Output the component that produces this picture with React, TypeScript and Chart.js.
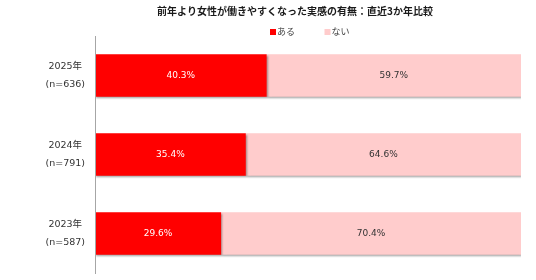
import React, { useEffect, useRef } from "react";
import { Chart, registerables } from "chart.js";

Chart.register(...registerables);

const years = ["2025年", "2024年", "2023年"];
const sampleSizes = [636, 791, 587];
const seriesNames = ["ある", "ない"];
const ariValues = [40.3, 35.4, 29.6];
const naiValues = [59.7, 64.6, 70.4];
const colors = ["#FF0000", "#FFCCCC"];
const labelColors = ["#FFFFFF", "#333333"];
const title = "前年より女性が働きやすくなった実感の有無：直近3か年比較";

const LATIN = '"DejaVu Sans", "Noto Sans CJK JP", sans-serif';
const CJK = '"Noto Sans CJK JP", sans-serif';

const shadowPlugin = {
  id: "barShadow",
  beforeDatasetDraw(chart: any) {
    const ctx = chart.ctx;
    ctx.save();
    ctx.shadowColor = "rgba(0,0,0,0.38)";
    ctx.shadowBlur = 2;
    ctx.shadowOffsetX = 1;
    ctx.shadowOffsetY = 1.5;
  },
  afterDatasetDraw(chart: any) {
    chart.ctx.restore();
  },
};

const valueLabelPlugin = {
  id: "valueLabels",
  afterDatasetsDraw(chart: any) {
    const ctx = chart.ctx;
    ctx.save();
    ctx.font = `9px ${LATIN}`;
    ctx.textAlign = "center";
    ctx.textBaseline = "middle";
    chart.data.datasets.forEach((ds: any, di: number) => {
      const meta = chart.getDatasetMeta(di);
      ctx.fillStyle = labelColors[di];
      meta.data.forEach((bar: any, i: number) => {
        const v = ds.data[i];
        const cx = (bar.x + bar.base) / 2;
        ctx.fillText(v.toFixed(1) + "%", cx, bar.y);
      });
    });
    ctx.restore();
  },
};

const titleLegendPlugin = {
  id: "titleLegend",
  afterDraw(chart: any) {
    const ctx = chart.ctx;
    ctx.save();
    ctx.fillStyle = "#1a1a1a";
    ctx.font = `bold 10px ${CJK}`;
    ctx.textAlign = "center";
    ctx.textBaseline = "middle";
    ctx.fillText(title, 295, 11.5);

    ctx.font = `9px ${CJK}`;
    ctx.textAlign = "left";
    let x = 270;
    chart.data.datasets.forEach((ds: any) => {
      ctx.fillStyle = ds.backgroundColor;
      ctx.fillRect(x, 29, 6, 6);
      ctx.fillStyle = "#404040";
      ctx.fillText(ds.label, x + 7, 31.5);
      x += 54.5;
    });
    ctx.restore();
  },
};

export default function App() {
  const ref = useRef<HTMLCanvasElement>(null);

  useEffect(() => {
    if (!ref.current) return;
    const chart = new Chart(ref.current, {
      type: "bar",
      data: {
        labels: years.map((y, i) => [y, `(n=${sampleSizes[i]})`]),
        datasets: [
          {
            label: seriesNames[0],
            data: ariValues,
            backgroundColor: colors[0],
            barPercentage: 0.54,
            categoryPercentage: 1,
          },
          {
            label: seriesNames[1],
            data: naiValues,
            backgroundColor: colors[1],
            barPercentage: 0.54,
            categoryPercentage: 1,
          },
        ],
      },
      options: {
        indexAxis: "y",
        responsive: false,
        animation: false,
        layout: { padding: { top: 36, bottom: 7, right: 15, left: 0 } },
        plugins: {
          legend: { display: false },
          title: { display: false },
          tooltip: { enabled: false },
        },
        scales: {
          x: {
            stacked: true,
            min: 0,
            max: 100,
            display: false,
          },
          y: {
            stacked: true,
            grid: { display: false, drawTicks: false },
            border: { display: true, color: "#a6a6a6", width: 1, z: 1 },
            afterFit: (s: any) => {
              s.width = 95;
              s.paddingTop = 0;
              s.paddingBottom = 0;
            },
            ticks: {
              crossAlign: "center",
              padding: 10,
              color: "#333333",
              font: { family: LATIN, size: 9.5, lineHeight: 1.9 },
            },
          },
        },
      },
      plugins: [shadowPlugin, valueLabelPlugin, titleLegendPlugin],
    } as any);
    return () => chart.destroy();
  }, []);

  return (
    <div style={{ position: "absolute", left: 0, top: 0, width: 536, height: 280, background: "#fff" }}>
      <canvas ref={ref} width={536} height={280} style={{ display: "block" }} />
    </div>
  );
}
